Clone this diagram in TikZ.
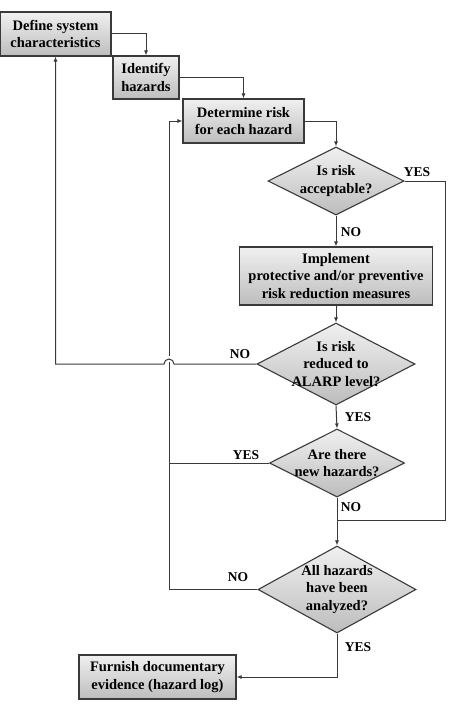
\documentclass[tikz,border=0pt]{standalone}
\usepackage{fontspec}
\setmainfont{Liberation Serif}
\usetikzlibrary{shapes.geometric,arrows.meta}
\definecolor{topc}{HTML}{F0F0F0}
\definecolor{botc}{HTML}{BDBDBD}
\definecolor{edge}{HTML}{3A3A3A}
\tikzset{
  x=1pt,y=-1pt,
  boxnode/.style={rectangle,draw=edge,line width=1.1pt,top color=topc,bottom color=botc,
    inner sep=0pt,align=center,font=\fontsize{14.5}{17.5}\selectfont\bfseries},
  dia/.style={diamond,draw=edge,line width=1.1pt,top color=topc,bottom color=botc,inner sep=0pt},
  diatext/.style={align=center,font=\fontsize{14.5}{17.5}\selectfont\bfseries,inner sep=0pt},
  lbl/.style={font=\fontsize{13.5}{15}\selectfont\bfseries,inner sep=0pt},
  conn/.style={draw=edge,line width=1pt},
  arr/.style={conn,-{Latex[length=5pt,width=4pt]}},
}
\begin{document}
\begin{tikzpicture}
\useasboundingbox (0,0) rectangle (474,709);
% boxes
\node[boxnode,minimum width=111pt,minimum height=44pt] (b1) at (55.5,34) {Define system\\characteristics};
\node[boxnode,minimum width=66pt,minimum height=43pt] (b2) at (146,77.5) {Identify\\hazards};
\node[boxnode,minimum width=121pt,minimum height=44pt] (b3) at (243.5,121) {Determine risk\\for each hazard};
\node[boxnode,minimum width=193pt,minimum height=58pt] (b4) at (336,276) {Implement\\protective and/or preventive\\risk reduction measures};
\node[boxnode,minimum width=157pt,minimum height=44pt] (b5) at (157.5,677) {Furnish documentary\\evidence (hazard log)};
% diamonds
\node[dia,minimum width=136pt,minimum height=68pt] (d1) at (336,181) {};
\node[diatext] (t1) at (d1.center) {Is risk\\acceptable?};
\node[dia,minimum width=158pt,minimum height=82pt] (d2) at (336,364) {};
\node[diatext] (t2) at (d2.center) {Is risk\\reduced to\\ALARP level?};
\node[dia,minimum width=135pt,minimum height=68pt] (d3) at (337,463) {};
\node[diatext] (t3) at (d3.center) {Are there\\new hazards?};
\node[dia,minimum width=158pt,minimum height=87pt] (d4) at (337,589.5) {};
\node[diatext] (t4) at (d4.center) {All hazards\\have been\\analyzed?};
% helper coordinates
\coordinate (yr) at (445,520);
\coordinate (jn) at (337,520);
\coordinate (lp) at (169,589.5);
% connectors
\draw[arr] (b1.east) -| (b2.north);
\draw[arr] (b2.east) -| (b3.north);
\draw[arr] (b3.east) -| (d1.north);
\draw[arr] (d1.south) -- (b4.north);
\draw[arr] (b4.south) -- (d2.north);
\draw[arr] (d2.south) -- (d3.north);
\draw[arr] (d3.south) -- (d4.north);
\draw[conn] (d1.east) -| (yr) -- (jn);
\draw[arr] (d4.south) |- (b5.east);
\draw[arr] (d4.west) -- (lp) |- (b3.west);
\draw[conn] (d3.west) -- (lp |- d3.west);
% NO from d2 with jump over the vertical line
\fill[white] (165,356) rectangle (173,362);
\draw[arr] (d2.west) -- (174,364) arc[start angle=0,end angle=-180,radius=5] -- (b1.south |- d2.west) -- (b1.south);
% labels
\node[lbl] (l1) at (417,172) {YES};
\node[lbl] (l2) at (351,232) {NO};
\node[lbl] (l3) at (240,354) {NO};
\node[lbl] (l4) at (358,417) {YES};
\node[lbl] (l5) at (246,455) {YES};
\node[lbl] (l6) at (351,507) {NO};
\node[lbl] (l7) at (238,577) {NO};
\node[lbl] (l8) at (358,647) {YES};
\end{tikzpicture}
\end{document}
